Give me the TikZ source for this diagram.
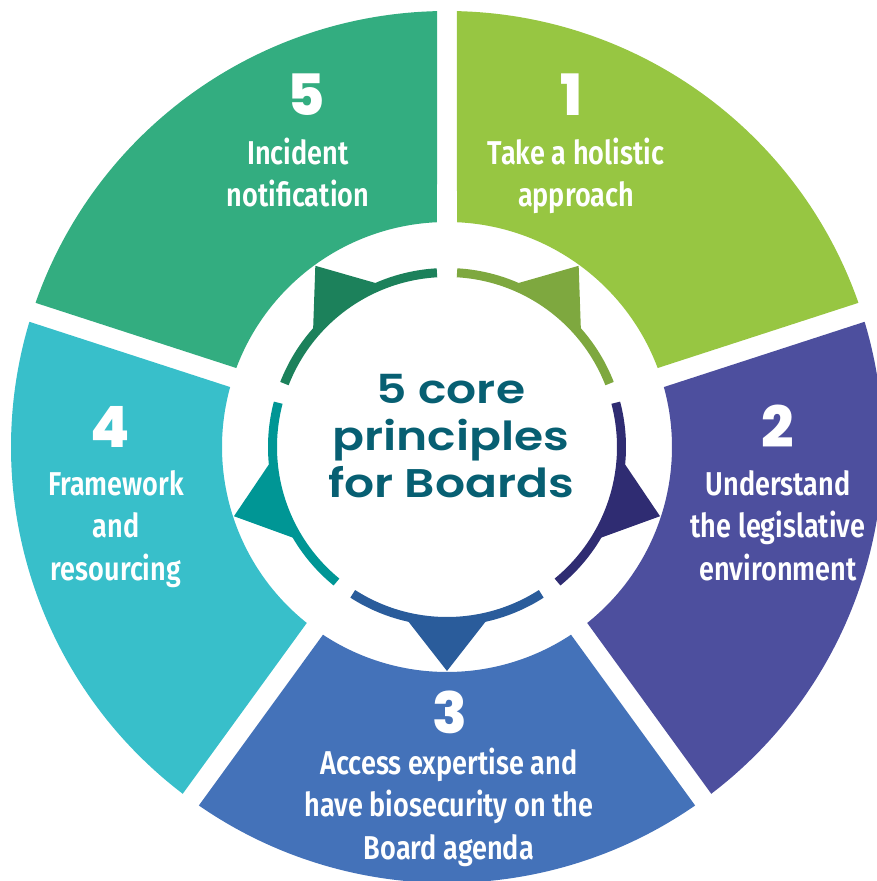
\documentclass[tikz,border=0pt]{standalone}
\usepackage{fontspec}
\usepackage{tikz}
\newfontfamily\labelfont{Fira Sans}[UprightFont=* SemiBold, FakeStretch=0.82]
\newfontfamily\numfont{Poppins}[UprightFont=* ExtraBold]
\newfontfamily\corefont{Poppins}[UprightFont=* SemiBold, FakeStretch=1.18]
\definecolor{segone}{HTML}{97C642}
\definecolor{segtwo}{HTML}{4D4F9E}
\definecolor{segthree}{HTML}{4472B9}
\definecolor{segfour}{HTML}{38BFCA}
\definecolor{segfive}{HTML}{33AD80}
\definecolor{arcone}{HTML}{7EA83F}
\definecolor{arctwo}{HTML}{2F2C72}
\definecolor{arcthree}{HTML}{2A5C9B}
\definecolor{arcfour}{HTML}{009695}
\definecolor{arcfive}{HTML}{1C815B}
\definecolor{coreteal}{HTML}{075F72}
\tikzset{
	ring/.style={line width=9pt},
	numtext/.style={text=white, inner sep=0pt, anchor=base, font=\numfont\fontsize{57}{57}\selectfont},
	labeltext/.style={text=white, inner sep=0pt, anchor=base, align=center, font=\labelfont\fontsize{33}{42.5}\selectfont},
	coretext/.style={text=coreteal, inner sep=0pt, anchor=base, align=center, font=\corefont\fontsize{40}{47}\selectfont}
}

\begin{document}
\begin{tikzpicture}
	\useasboundingbox (-447pt, -434pt) rectangle (430pt, 447pt);
	% Outer segments:
	\fill[segone] (88.69:436pt) arc[start angle=88.69, end angle=19.31, radius=436pt] -- (20.55:225pt) arc[start angle=20.55, end angle=87.45, radius=225pt] -- cycle;
	\fill[segtwo] (16.69:436pt) arc[start angle=16.69, end angle=-52.69, radius=436pt] -- (-51.45:225pt) arc[start angle=-51.45, end angle=15.45, radius=225pt] -- cycle;
	\fill[segthree] (-55.31:436pt) arc[start angle=-55.31, end angle=-124.69, radius=436pt] -- (-123.45:225pt) arc[start angle=-123.45, end angle=-56.55, radius=225pt] -- cycle;
	\fill[segfour] (-127.31:436pt) arc[start angle=-127.31, end angle=-196.69, radius=436pt] -- (-195.45:225pt) arc[start angle=-195.45, end angle=-128.55, radius=225pt] -- cycle;
	\fill[segfive] (160.69:436pt) arc[start angle=160.69, end angle=91.31, radius=436pt] -- (92.55:225pt) arc[start angle=92.55, end angle=159.45, radius=225pt] -- cycle;
	% Inner ring and pointers:
	\draw[ring, arcone] (86.7:174.5pt) arc[start angle=86.7, end angle=21.3, radius=174.5pt];
	\draw[ring, arctwo] (14.7:174.5pt) arc[start angle=14.7, end angle=-50.7, radius=174.5pt];
	\draw[ring, arcthree] (-57.3:174.5pt) arc[start angle=-57.3, end angle=-122.7, radius=174.5pt];
	\draw[ring, arcfour] (-129.3:174.5pt) arc[start angle=-129.3, end angle=-194.7, radius=174.5pt];
	\draw[ring, arcfive] (158.7:174.5pt) arc[start angle=158.7, end angle=93.3, radius=174.5pt];
	\fill[arcone] (68:175pt) arc[start angle=68, end angle=40, radius=175pt] -- (54:224pt) -- cycle;
	\fill[arctwo] (-4:175pt) arc[start angle=-4, end angle=-32, radius=175pt] -- (-18:224pt) -- cycle;
	\fill[arcthree] (-76:175pt) arc[start angle=-76, end angle=-104, radius=175pt] -- (-90:224pt) -- cycle;
	\fill[arcfour] (-148:175pt) arc[start angle=-148, end angle=-176, radius=175pt] -- (-162:224pt) -- cycle;
	\fill[arcfive] (140:175pt) arc[start angle=140, end angle=112, radius=175pt] -- (126:224pt) -- cycle;
	% Numbers and labels (base = last line):
	\node[numtext] (n1) at (125pt, 331pt) {1};
	\node[labeltext] (p1) at (129pt, 240pt) {Take a holistic\\approach};
	\node[numtext] (n2) at (331pt, 0pt) {2};
	\node[labeltext] (p2) at (331pt, -133pt) {Understand\\the legislative\\environment};
	\node[numtext] (n3) at (3pt, -286pt) {3};
	\node[labeltext] (p3) at (2pt, -412pt) {Access expertise and\\have biosecurity on the\\Board agenda};
	\node[numtext] (n4) at (-337pt, 0pt) {4};
	\node[labeltext] (p4) at (-331pt, -133pt) {Framework\\and\\resourcing};
	\node[numtext] (n5) at (-141pt, 331pt) {5};
	\node[labeltext] (p5) at (-149pt, 240pt) {Incident\\notification};
	\node[coretext] (title) at (4pt, -50pt) {5 core\\principles\\for Boards};
\end{tikzpicture}
\end{document}
